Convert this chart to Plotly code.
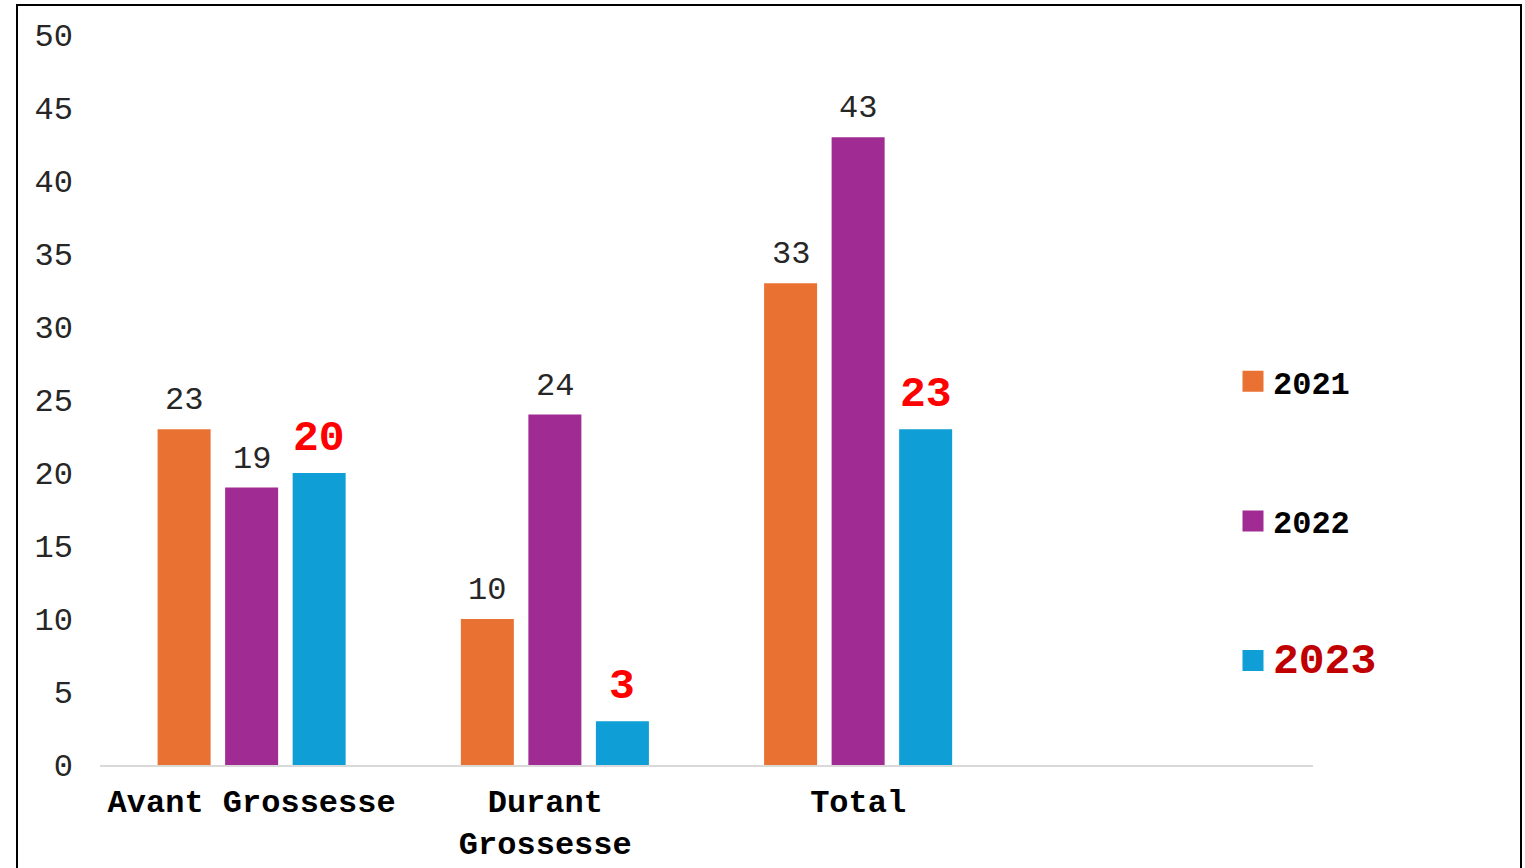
import plotly.graph_objects as go

categories = ["Avant Grossesse", "Durant<br>Grossesse", "Total"]
cat_labels = ["Avant Grossesse", "Durant\u00a0<br>Grossesse\u00a0", "Total"]
years = ["2021", "2022", "2023"]
v2021 = [23, 10, 33]
v2022 = [19, 24, 43]
v2023 = [20, 3, 23]
series = [v2021, v2022, v2023]
colors = ["#E97132", "#A02B93", "#0F9ED5"]

W, H = 1525, 868
ML, MR, MT, MB = 100, 212, 35, 103
BARGAP = 0.332
BARGROUPGAP = 0.215

FONT = "Liberation Mono"
xpos = list(range(len(categories)))

fig = go.Figure()
for j, (yr, vals, col) in enumerate(zip(years, series, colors)):
    fig.add_trace(go.Bar(
        x=xpos, y=vals, name=yr, marker=dict(color=col, line=dict(width=0)),
        showlegend=False, hoverinfo="y",
    ))

# legend entries
legend_names = [
    "2021",
    "2022",
    '<span style="font-size:43px;color:#C00000">2023</span>',
]
for j, (nm, col) in enumerate(zip(legend_names, colors)):
    fig.add_trace(go.Scatter(
        x=[None], y=[None], mode="markers", name=nm, legendgroup="g%d" % j,
        marker=dict(symbol="square", size=16, color=col, line=dict(color=col, width=5)),
    ))

# value labels
slot = (1 - BARGAP) / len(years)
annotations = []
for j, vals in enumerate(series):
    off = (j - (len(years) - 1) / 2) * slot
    for i, v in enumerate(vals):
        if j == 2:
            font = dict(family=FONT, size=43, color="#FF0000", weight="bold")
            ys = 8
        else:
            font = dict(family=FONT, size=32, color="#262626")
            ys = 8
        annotations.append(dict(
            x=xpos[i] + off, y=v, xref="x", yref="y", text=str(v),
            showarrow=False, yanchor="bottom", xanchor="center", yshift=ys,
            font=font,
        ))

plot_w = W - ML - MR
plot_h = H - MT - MB
fig.add_shape(
    type="rect", xref="paper", yref="paper",
    x0=(17 - ML) / plot_w, x1=(1521 - ML) / plot_w,
    y0=-(MB + 20) / plot_h, y1=(H - MB - 5) / plot_h,
    line=dict(color="#000000", width=2), fillcolor="rgba(0,0,0,0)", layer="below",
)

fig.update_layout(
    width=W, height=H,
    margin=dict(l=ML, r=MR, t=MT, b=MB, pad=0, autoexpand=False),
    paper_bgcolor="white", plot_bgcolor="white",
    barmode="group", bargap=BARGAP, bargroupgap=BARGROUPGAP,
    font=dict(family=FONT, size=32, color="#262626"),
    annotations=annotations,
    legend=dict(
        x=(1233 - ML) / plot_w, xanchor="left",
        y=(H - MB - 521) / plot_h, yanchor="middle",
        font=dict(family=FONT, size=32, color="#000000", weight="bold"),
        tracegroupgap=95, itemwidth=30, bgcolor="rgba(0,0,0,0)",
    ),
    xaxis=dict(
        range=[-0.5, 3.5], tickvals=xpos, ticktext=cat_labels, automargin=False,
        showgrid=False, zeroline=False, showline=True, linecolor="#D9D9D9", linewidth=2,
        ticks="", tickfont=dict(family=FONT, size=32, color="#000000", weight="bold"),
        ticklabelstandoff=7,
    ),
    yaxis=dict(
        range=[0, 50], dtick=5, showgrid=False, zeroline=False, showline=False,
        automargin=False,
        ticks="", tickfont=dict(family=FONT, size=32, color="#262626"),
        ticklabelstandoff=26,
    ),
)

fig.write_html("out.html")
